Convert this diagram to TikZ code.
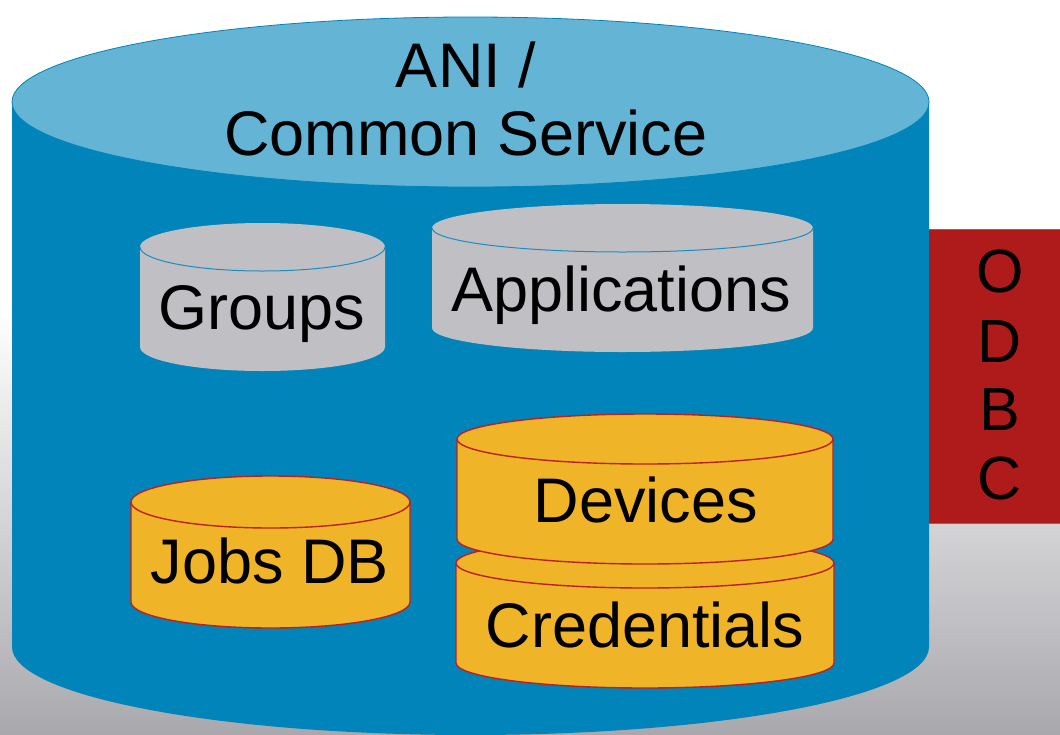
\documentclass[tikz,border=0pt]{standalone}
\usepackage{fontspec}
\setmainfont{Liberation Sans}
\definecolor{bigblue}{HTML}{0084B9}
\definecolor{topblue}{HTML}{64B4D5}
\definecolor{edgeblue}{HTML}{1A8DC2}
\definecolor{greyfill}{HTML}{C0BFC4}
\definecolor{yellowfill}{HTML}{F0B428}
\definecolor{redline}{HTML}{BC1F26}
\definecolor{odbcred}{HTML}{AF1A1A}
\definecolor{bggrey}{HTML}{A9A8AD}
% #1 left x, #2 right x, #3 top-centre y, #4 bottom-centre y, #5 y radius, #6 fill, #7 outline options, #8 inner edge options
\newcommand\dbcyl[8]{%
  \path[fill=#6,#7] (#1,#3) -- (#1,#4)
    arc[start angle=180,end angle=360,x radius={(#2-#1)/2},y radius=#5]
    -- (#2,#3)
    arc[start angle=0,end angle=180,x radius={(#2-#1)/2},y radius=#5] -- cycle;
  \draw[#8] (#1,#3)
    arc[start angle=180,end angle=360,x radius={(#2-#1)/2},y radius=#5];
}
\tikzset{
  lbl/.style={font=\fontsize{63}{63}\selectfont, inner sep=0pt, anchor=base, text=black},
  oletter/.style={font=\fontsize{61}{61}\selectfont, inner sep=0pt, anchor=base, text=black},
  greyedge/.style={draw=none},
  greyinner/.style={draw=edgeblue, line width=1pt},
  yellowedge/.style={draw=redline, line width=1.4pt},
  yellowinner/.style={draw=redline, line width=1.4pt},
}
\begin{document}
\begin{tikzpicture}[x=1pt,y=1pt]
\useasboundingbox (0,0) rectangle (1060,-734);
% background
\fill[white] (0,0) rectangle (1060,-734);
\shade[top color=white, bottom color=bggrey] (0,-310) rectangle (1060,-734);
% ODBC block
\path[fill=odbcred, draw=edgeblue, line width=0.9pt] (925,-229) rectangle (1062,-523);
% big cylinder body
\path[fill=bigblue] (12,-101) -- (12,-647)
  arc[start angle=180,end angle=360,x radius=458.5,y radius=88]
  -- (929,-101) -- cycle;
% big cylinder top
\path[fill=topblue, draw=bigblue, line width=0.8pt] (470.5,-102) ellipse[x radius=458.5, y radius=85];
% inner databases
\dbcyl{140}{385}{-247}{-347}{24}{greyfill}{greyedge}{greyinner}
\dbcyl{432}{813}{-228}{-328}{24}{greyfill}{greyedge}{greyinner}
\dbcyl{131}{410}{-502}{-602}{26}{yellowfill}{yellowedge}{yellowinner}
\dbcyl{456}{834}{-563}{-663}{25}{yellowfill}{yellowedge}{yellowinner}
\dbcyl{457}{833}{-439}{-539}{25}{yellowfill}{yellowedge}{yellowinner}
% labels
\node[lbl] (ani) at (466,-87) {ANI /};
\node[lbl] (common) at (466,-155) {Common Service};
\node[lbl] (groups) at (262,-329) {Groups};
\node[lbl] (apps) at (621,-311) {Applications};
\node[lbl] (jobs) at (270,-583) {Jobs DB};
\node[lbl] (devices) at (646,-522) {Devices};
\node[lbl] (creds) at (645,-647) {Credentials};
\node[oletter] (o1) at (1000,-292) {O};
\node[oletter] (o2) at (1000,-362) {D};
\node[oletter] (o3) at (1000,-430) {B};
\node[oletter] (o4) at (1000,-499) {C};
\end{tikzpicture}
\end{document}
